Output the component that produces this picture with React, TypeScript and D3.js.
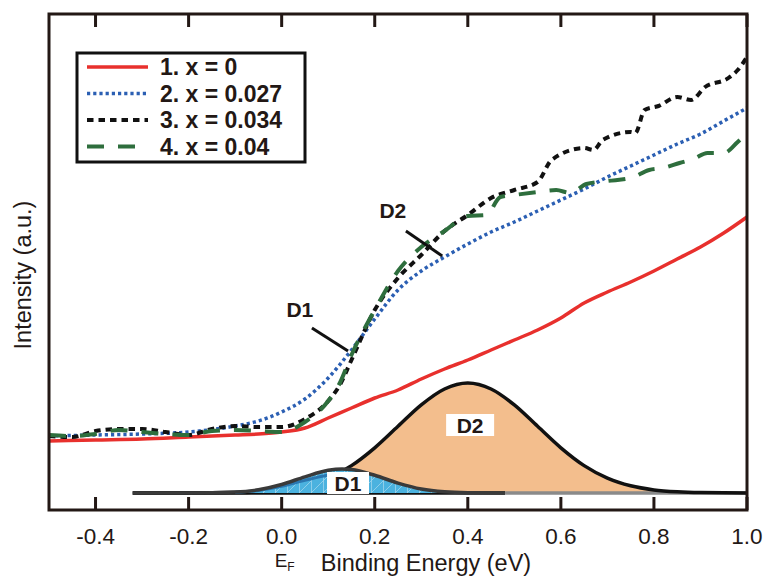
import React from 'react';
import * as d3 from 'd3';

// ---- data (Intensity in a.u.) ----
const energyRed = [-0.5,-0.4,-0.3,-0.2,-0.1,-0.05,0,0.05,0.1,0.15,0.2,0.25,0.3,0.35,0.4,0.45,0.5,0.55,0.6,0.65,0.7,0.75,0.8,0.85,0.9,0.95,1.0];
const intensityRed = [69,70,71,73,75,76,78,82,92,102,112,120,131,141,150,160,170,180,192,207,218,228,239,251,263,277,293];

const energyBlue = [-0.5,-0.4,-0.3,-0.2,-0.1,-0.05,0,0.05,0.1,0.15,0.2,0.25,0.3,0.35,0.4,0.45,0.5,0.55,0.6,0.65,0.7,0.75,0.8,0.85,0.9,0.95,1.0];
const intensityBlue = [74,75,76,78,84,89,98,111,132,160,191,220,239,253,266,278,288,299,310,321,333,344,355,366,376,389,402];

const energyBlack = [-0.5,-0.45,-0.4,-0.35,-0.3,-0.25,-0.2,-0.15,-0.1,-0.05,0,0.05,0.1,0.125,0.15,0.2,0.25,0.3,0.35,0.4,0.45,0.5,0.55,0.58,0.65,0.67,0.69,0.75,0.76,0.78,0.81,0.85,0.88,0.91,0.96,0.98,1.0];
const intensityBlack = [74,73,79,81,81,78,75,81,84,83,83,91,109,125,150,200,232,255,279,295,312,320,328,350,362,360,370,378,377,400,404,413,410,423,432,440,453];

const energyGreen = [-0.5,-0.45,-0.4,-0.35,-0.3,-0.25,-0.2,-0.15,-0.1,-0.05,0,0.05,0.1,0.125,0.15,0.2,0.25,0.3,0.35,0.4,0.44,0.47,0.5,0.55,0.59,0.62,0.655,0.7,0.75,0.79,0.82,0.855,0.885,0.915,0.95,0.98,1.0];
const intensityGreen = [75,74,76,80,78,76,75,79,80,79,78,88,109,127,155,200,239,263,279,294,295,313,315,318,320,317,326,329,332,340,342,347,351,357,357,368,377];

// fitted components (height above the component baseline)
const componentBaseline = 17;
const energyD2 = [-0.32,-0.2,-0.1,-0.05,0,0.05,0.1,0.15,0.2,0.25,0.3,0.35,0.4,0.45,0.5,0.55,0.6,0.65,0.7,0.75,0.8,0.85,0.9,1.0];
const heightD2 = [0,0,0.4,1.2,3.1,7.2,14.9,27.4,45.2,66.7,88.1,104,110,104,88.1,66.7,45.2,27.4,14.9,7.2,3.1,1.2,0.4,0];
const energyD1 = [-0.32,-0.2,-0.1,-0.05,0,0.05,0.1,0.13,0.15,0.2,0.25,0.3,0.35,0.4,0.48];
const heightD1 = [0,0,0.9,3.2,8.5,16.2,22.7,24,23.4,17.7,9.9,4.0,1.2,0.3,0];

const xTicks = [-0.4,-0.2,0.0,0.2,0.4,0.6,0.8,1.0];
const legendLabels = ['1. x = 0','2. x = 0.027','3. x = 0.034','4. x = 0.04'];

// ---- styles ----
const seriesStyles = [
  { color: '#e8302d', width: 3.5, dash: '' },
  { color: '#2b5fb3', width: 3.5, dash: '3.2,3' },
  { color: '#111111', width: 4, dash: '6.5,5' },
  { color: '#2e6e3d', width: 4, dash: '17,14' },
];
const seriesData = [
  { e: energyRed, v: intensityRed },
  { e: energyBlue, v: intensityBlue },
  { e: energyBlack, v: intensityBlack },
  { e: energyGreen, v: intensityGreen },
];

const W = 766, H = 577;
const L = 49, R = 747, T = 14, B = 510;
const frameColor = '#231815';
const font = '"Liberation Sans", Arial, Helvetica, sans-serif';

export default function App() {
  const x = d3.scaleLinear().domain([-0.5, 1.0]).range([L, R]);
  const y = d3.scaleLinear().domain([0, 496]).range([B, T]);

  const line = (e: number[], v: number[]) =>
    d3.line<number>().x((_, i) => x(e[i])).y((d) => y(d)).curve(d3.curveMonotoneX)(v) || '';

  const compArea = (e: number[], h: number[]) =>
    d3.area<number>().x((_, i) => x(e[i])).y0(y(componentBaseline)).y1((d) => y(componentBaseline + d)).curve(d3.curveMonotoneX)(h) || '';
  const compLine = (e: number[], h: number[], k = 1) =>
    d3.line<number>().x((_, i) => x(e[i])).y((d) => y(componentBaseline + d * k)).curve(d3.curveMonotoneX)(h) || '';

  const d1InnerE = energyD1.filter((e) => e <= 0.13 && e >= -0.1);
  const d1InnerH = heightD1.filter((_, i) => energyD1[i] <= 0.13 && energyD1[i] >= -0.1);

  return (
    <svg width={W} height={H} style={{ position: 'absolute', left: 0, top: 0, background: '#fff' }} fontFamily={font}>
      <defs>
        <pattern id="d1hatch" width="12" height="12" patternUnits="userSpaceOnUse">
          <rect width="12" height="12" fill="#4bb2df" />
          <path d="M0,12 L12,0" stroke="#9fd6ee" strokeWidth="0.8" />
          <path d="M11.5,0 L11.5,12" stroke="#9fd6ee" strokeWidth="0.8" />
        </pattern>
        <clipPath id="plotClip">
          <rect x={L} y={T} width={R - L} height={B - T} />
        </clipPath>
      </defs>

      {/* components */}
      <g clipPath="url(#plotClip)">
        <path d={compArea(energyD2, heightD2)} fill="#f3be8d" />
        <line x1={x(-0.32)} x2={x(0.48)} y1={y(componentBaseline)} y2={y(componentBaseline)} stroke="#111" strokeWidth={3.5} />
        <line x1={x(0.48)} x2={x(1.0)} y1={y(componentBaseline)} y2={y(componentBaseline)} stroke="#8a8a8a" strokeWidth={3.5} />
        <path d={compLine(energyD2, heightD2)} fill="none" stroke="#111" strokeWidth={3.5} />
        <path d={compArea(energyD1, heightD1)} fill="url(#d1hatch)" />
        <path d={compLine(d1InnerE, d1InnerH, 0.78)} fill="none" stroke="#2b77b0" strokeWidth={3} />
        <path d={compLine(energyD1, heightD1)} fill="none" stroke="#3a3a3a" strokeWidth={3.5} />
      </g>

      {/* component labels */}
      <rect x={x(0.1426) - 21} y={y(27) - 11} width={42} height={22} fill="#fff" />
      <text x={x(0.1426)} y={y(27)} dy="0.36em" textAnchor="middle" fontWeight="bold" fontSize={21} fill="#231815">D1</text>
      <rect x={x(0.405) - 24} y={y(85) - 11} width={48} height={22} fill="#fff" />
      <text x={x(0.405)} y={y(85)} dy="0.36em" textAnchor="middle" fontWeight="bold" fontSize={21} fill="#231815">D2</text>

      {/* spectra */}
      <g clipPath="url(#plotClip)">
        {seriesData.map((s, i) => (
          <path key={i} d={line(s.e, s.v)} fill="none" stroke={seriesStyles[i].color} strokeWidth={seriesStyles[i].width} strokeDasharray={seriesStyles[i].dash || undefined} />
        ))}
      </g>

      {/* annotations */}
      <line x1={x(0.065)} y1={y(182)} x2={x(0.1426)} y2={y(159)} stroke="#111" strokeWidth={3} />
      <text x={x(0.039)} y={y(201)} dy="0.36em" textAnchor="middle" fontWeight="bold" fontSize={21} fill="#231815">D1</text>
      <line x1={x(0.267)} y1={y(279)} x2={x(0.345)} y2={y(254)} stroke="#111" strokeWidth={3} />
      <text x={x(0.239)} y={y(300)} dy="0.36em" textAnchor="middle" fontWeight="bold" fontSize={21} fill="#231815">D2</text>

      {/* frame & ticks */}
      <rect x={L} y={T} width={R - L} height={B - T} fill="none" stroke={frameColor} strokeWidth={3} />
      {xTicks.map((t) => (
        <g key={t}>
          <line x1={x(t)} x2={x(t)} y1={B} y2={B - 13} stroke={frameColor} strokeWidth={3} />
          <line x1={x(t)} x2={x(t)} y1={T} y2={T + 13} stroke={frameColor} strokeWidth={3} />
          <text x={x(t)} y={B + 34} textAnchor="middle" fontSize={22.5} fill={frameColor}>{t.toFixed(1)}</text>
        </g>
      ))}

      {/* axis titles */}
      <text x={x(0) - 7} y={B + 57} fontSize={19} fill={frameColor}>
        E<tspan fontSize={12} dy={4}>F</tspan>
      </text>
      <text x={426} y={B + 61} textAnchor="middle" fontSize={23.5} fill={frameColor}>Binding Energy (eV)</text>
      <text transform={`translate(31, 275) rotate(-90)`} textAnchor="middle" fontSize={23.5} fill={frameColor}>Intensity (a.u.)</text>

      {/* legend */}
      <rect x={77} y={53} width={228} height={109} fill="#fff" stroke="#111" strokeWidth={3} />
      {legendLabels.map((lab, i) => (
        <g key={lab}>
          <line x1={87} x2={148} y1={67 + i * 26.5} y2={67 + i * 26.5} stroke={seriesStyles[i].color} strokeWidth={seriesStyles[i].width} strokeDasharray={seriesStyles[i].dash || undefined} />
          <text x={160} y={67 + i * 26.5} dy="0.36em" fontWeight="bold" fontSize={23} fill="#231815">{lab}</text>
        </g>
      ))}
    </svg>
  );
}
